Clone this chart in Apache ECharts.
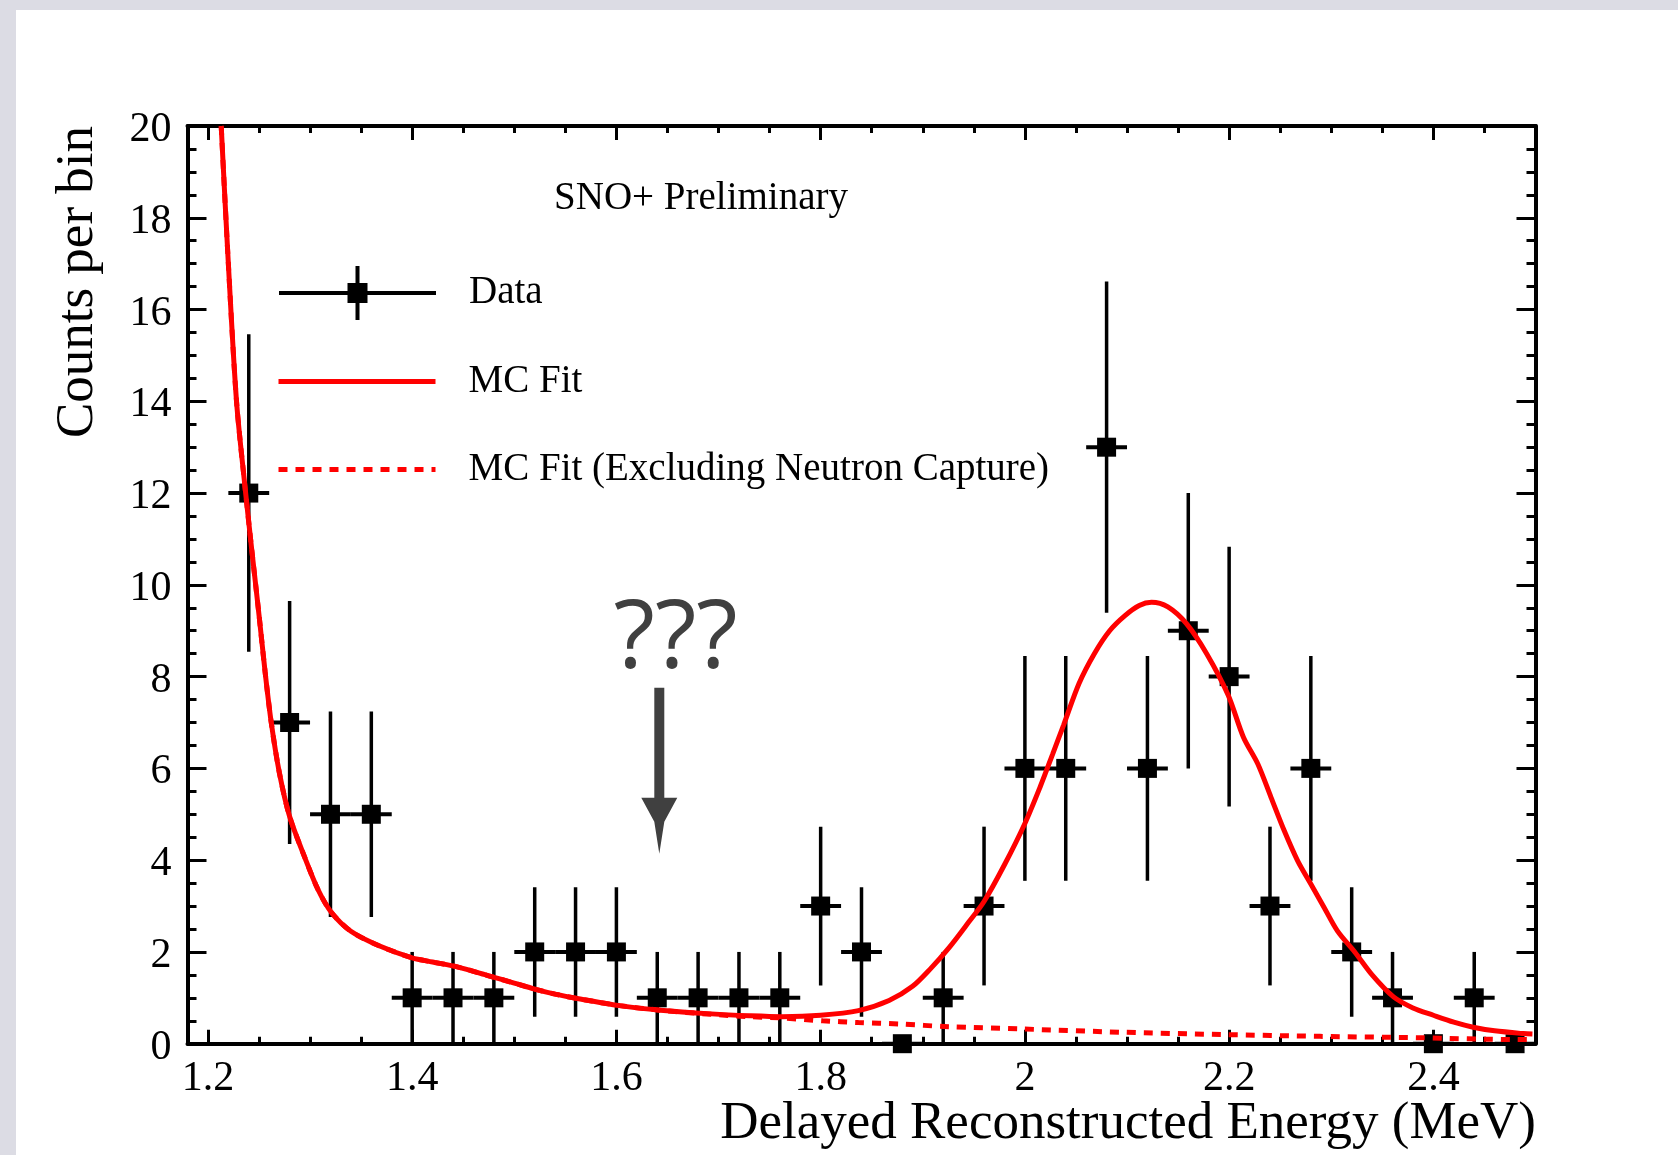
<!DOCTYPE html>
<html>
<head>
<meta charset="UTF-8" />
<title>SNO+ delayed energy</title>
<script src="https://cdn.jsdelivr.net/npm/echarts@6.0.0/dist/echarts.min.js"></script>
<style>
  body { margin: 0; background: #dcdce4; width: 1678px; height: 1155px; overflow: hidden; }
  #chart { position: absolute; left: 16px; top: 10px; width: 1662px; height: 1145px; background: #fff; }
</style>
</head>
<body>
<div id="chart"></div>
<script>
// histogram bins (centre, counts, error)
const binCenters = [1.24, 1.28, 1.32, 1.36, 1.40, 1.44, 1.48, 1.52, 1.56, 1.60, 1.64, 1.68, 1.72, 1.76, 1.80, 1.84,
  1.88, 1.92, 1.96, 2.00, 2.04, 2.08, 2.12, 2.16, 2.20, 2.24, 2.28, 2.32, 2.36, 2.40, 2.44, 2.48];
const counts = [12, 7, 5, 5, 1, 1, 1, 2, 2, 2, 1, 1, 1, 1, 3, 2, 0, 1, 3, 6, 6, 13, 6, 9, 8, 3, 6, 2, 1, 0, 1, 0];
const countErrors = [3.46, 2.65, 2.24, 2.24, 1, 1, 1, 1.41, 1.41, 1.41, 1, 1, 1, 1, 1.73, 1.41, 0, 1, 1.73, 2.45,
  2.45, 3.61, 2.45, 3, 2.83, 1.73, 2.45, 1.41, 1, 0, 1, 0];
const binWidth = 0.04;

// MC fit
const fitX = [1.213, 1.220, 1.228, 1.236, 1.243, 1.250, 1.256, 1.262, 1.270, 1.280, 1.295, 1.308, 1.321, 1.340, 1.367,
  1.400, 1.420, 1.445, 1.475, 1.500, 1.520, 1.540, 1.563, 1.603, 1.643, 1.693, 1.730, 1.762, 1.800, 1.837, 1.867,
  1.890, 1.907, 1.926, 1.945, 1.960, 1.980, 2.000, 2.015, 2.027, 2.038, 2.053, 2.068, 2.083, 2.098, 2.112, 2.124,
  2.140, 2.158, 2.178, 2.199, 2.214, 2.228, 2.241, 2.254, 2.267, 2.280, 2.293, 2.306, 2.323, 2.340, 2.361, 2.380,
  2.400, 2.420, 2.439, 2.460, 2.488, 2.497];
const fitY = [20.0, 17.0, 14.0, 12.2, 10.75, 9.35, 8.1, 7.0, 5.9, 4.95, 4.05, 3.35, 2.86, 2.45, 2.14,
  1.87, 1.78, 1.67, 1.48, 1.32, 1.19, 1.08, 0.98, 0.83, 0.73, 0.65, 0.61, 0.59, 0.62, 0.72, 0.94,
  1.25, 1.62, 2.1, 2.65, 3.1, 3.9, 4.8, 5.6, 6.3, 6.95, 7.85, 8.5, 9.0, 9.33, 9.55, 9.62,
  9.52, 9.16, 8.5, 7.6, 6.68, 6.1, 5.37, 4.64, 3.99, 3.48, 2.97, 2.46, 2.0, 1.5, 1.02, 0.78,
  0.62, 0.47, 0.36, 0.28, 0.22, 0.21];

// MC fit without neutron capture (same as the fit below ~1.76 MeV)
const bgX = [1.213, 1.220, 1.228, 1.236, 1.243, 1.250, 1.256, 1.262, 1.270, 1.280, 1.295, 1.308, 1.321, 1.340, 1.367,
  1.400, 1.420, 1.445, 1.475, 1.500, 1.520, 1.540, 1.563, 1.603, 1.643, 1.693, 1.730, 1.762,
  1.802, 1.837, 1.877, 1.925, 1.998, 2.095, 2.192, 2.289, 2.385, 2.482, 2.497];
const bgY = [20.0, 17.0, 14.0, 12.2, 10.75, 9.35, 8.1, 7.0, 5.9, 4.95, 4.05, 3.35, 2.86, 2.45, 2.14,
  1.87, 1.78, 1.67, 1.48, 1.32, 1.19, 1.08, 0.98, 0.83, 0.73, 0.64, 0.59, 0.56,
  0.50, 0.46, 0.43, 0.37, 0.32, 0.25, 0.20, 0.16, 0.13, 0.09, 0.09];

const xMajorTicks = [1.2, 1.4, 1.6, 1.8, 2.0, 2.2, 2.4];
const xMinorTicks = [1.25, 1.3, 1.35, 1.45, 1.5, 1.55, 1.65, 1.7, 1.75, 1.85, 1.9, 1.95,
  2.05, 2.1, 2.15, 2.25, 2.3, 2.35, 2.45];

// "???" arrow: x, shaft top, tip, label x, label y
const arrowNote = [1.642, 7.76, 4.14, 1.658, 8.78];

const serif = "'Liberation Serif', 'DejaVu Serif', serif";
let myChart = echarts.init(document.getElementById("chart"));

function renderBins(params, api) {
  const x = api.value(0), y = api.value(1), e = api.value(2);
  const c = api.coord([x, y]);
  const l = api.coord([x - binWidth / 2, y]);
  const r = api.coord([x + binWidth / 2, y]);
  const kids = [{ type: "line", shape: { x1: l[0], y1: c[1], x2: r[0], y2: c[1] }, style: { stroke: "#000", lineWidth: 4 } }];
  if (e > 0) {
    const t = api.coord([x, y + e]);
    const b = api.coord([x, y - e]);
    kids.push({ type: "line", shape: { x1: c[0], y1: t[1], x2: c[0], y2: b[1] }, style: { stroke: "#000", lineWidth: 3.5 } });
  }
  kids.push({ type: "rect", shape: { x: c[0] - 9.5, y: c[1] - 9.5, width: 19, height: 19 }, style: { fill: "#000" } });
  return { type: "group", children: kids };
}

function renderArrow(params, api) {
  const top = api.coord([api.value(0), api.value(1)]);
  const tip = api.coord([api.value(0), api.value(2)]);
  const lab = api.coord([api.value(3), api.value(4)]);
  const base = tip[1] - 56;
  return {
    type: "group",
    children: [
      { type: "rect", shape: { x: top[0] - 5, y: top[1], width: 10, height: base - top[1] + 2 }, style: { fill: "#404040" } },
      { type: "polygon", shape: { points: [[tip[0] - 18, base], [tip[0] + 18, base], [tip[0] + 5, base + 24], [tip[0], tip[1]], [tip[0] - 5, base + 24]] }, style: { fill: "#404040" } },
      { type: "text", x: lab[0], y: lab[1], style: { text: "???", fontSize: 96, fontFamily: "'Open Sans', sans-serif", fill: "#404040", align: "center", verticalAlign: "middle" } }
    ]
  };
}

function xAx(pos, ticks, len, withLine, withLabels) {
  return {
    type: "value", position: pos, min: 1.18, max: 2.5,
    axisLine: { show: withLine, onZero: false, lineStyle: { color: "#000", width: 4 } },
    axisTick: { show: true, inside: true, length: len, customValues: ticks, lineStyle: { color: "#000", width: 3 } },
    axisLabel: { show: withLabels, customValues: ticks, margin: 14, fontSize: 42, fontFamily: serif, color: "#000" },
    splitLine: { show: false }
  };
}

function yAx(pos, withLabels) {
  return {
    type: "value", position: pos, min: 0, max: 20, interval: 2,
    axisLine: { show: true, onZero: false, lineStyle: { color: "#000", width: 4 } },
    axisTick: { show: true, inside: true, length: 19, lineStyle: { color: "#000", width: 3 } },
    minorTick: { show: true, splitNumber: 4, length: 9, lineStyle: { color: "#000", width: 3 } },
    axisLabel: { show: withLabels, margin: 16, verticalAlign: "top", lineHeight: 8, fontSize: 42, fontFamily: serif, color: "#000" },
    splitLine: { show: false }, minorSplitLine: { show: false }
  };
}

// one legend box per entry so the rows sit where the original has them
function legendRow(left, top, item) {
  return {
    orient: "vertical", left: left, top: top, padding: 0, itemWidth: 157, itemHeight: 54,
    selectedMode: false,
    textStyle: { fontFamily: serif, fontSize: 39, color: "#000", padding: [0, 0, 0, 28] },
    data: [item]
  };
}

myChart.setOption({
  animation: false,
  grid: { left: 171.5, right: 142.5, top: 116, bottom: 111.3 },
  legend: [
    legendRow(263, 256, { name: "Data", icon: "path://M0,25H157V29H0Z M76.5,0H80.5V54H76.5Z M68.5,17H88.5V37H68.5Z" }),
    legendRow(260, 350, { name: "MC Fit", itemStyle: { opacity: 0 }, lineStyle: { width: 5, type: "solid", color: "#ff0000" } }),
    legendRow(260, 438, { name: "MC Fit (Excluding Neutron Capture)", itemStyle: { opacity: 0 }, lineStyle: { width: 5, type: [9, 8], color: "#ff0000" } })
  ],
  graphic: [
    { type: "text", x: 685, y: 189, style: { text: "SNO+ Preliminary", font: "39px " + serif, fill: "#000", align: "center", verticalAlign: "middle" } },
    { type: "text", x: 1520, y: 1114, style: { text: "Delayed Reconstructed Energy (MeV)", font: "53px " + serif, fill: "#000", align: "right", verticalAlign: "middle" } },
    { type: "text", x: 62, y: 116, rotation: Math.PI / 2, style: { text: "Counts per bin", font: "53px " + serif, fill: "#000", align: "right", verticalAlign: "middle" } }
  ],
  xAxis: [
    xAx("bottom", xMajorTicks, 14, true, true),
    xAx("bottom", xMinorTicks, 7, false, false),
    xAx("top", xMajorTicks, 14, true, false),
    xAx("top", xMinorTicks, 7, false, false)
  ],
  yAxis: [yAx("left", true), yAx("right", false)],
  series: [
    {
      name: "Data", type: "custom", renderItem: renderBins, clip: false,
      itemStyle: { color: "#000" },
      encode: { x: 0, y: 1 },
      data: binCenters.map((x, i) => [x, counts[i], countErrors[i]])
    },
    {
      name: "MC Fit (Excluding Neutron Capture)", type: "line", symbol: "none", smooth: 0.3,
      lineStyle: { color: "#ff0000", width: 5, type: [9, 8] }, itemStyle: { color: "#ff0000" },
      data: bgX.map((x, i) => [x, bgY[i]])
    },
    {
      name: "MC Fit", type: "line", symbol: "none", smooth: 0.3,
      lineStyle: { color: "#ff0000", width: 5 }, itemStyle: { color: "#ff0000" },
      data: fitX.map((x, i) => [x, fitY[i]])
    },
    {
      name: "note", type: "custom", renderItem: renderArrow, silent: true, clip: false,
      encode: { x: 0, y: 1 },
      data: [arrowNote]
    }
  ]
});
</script>
</body>
</html>
